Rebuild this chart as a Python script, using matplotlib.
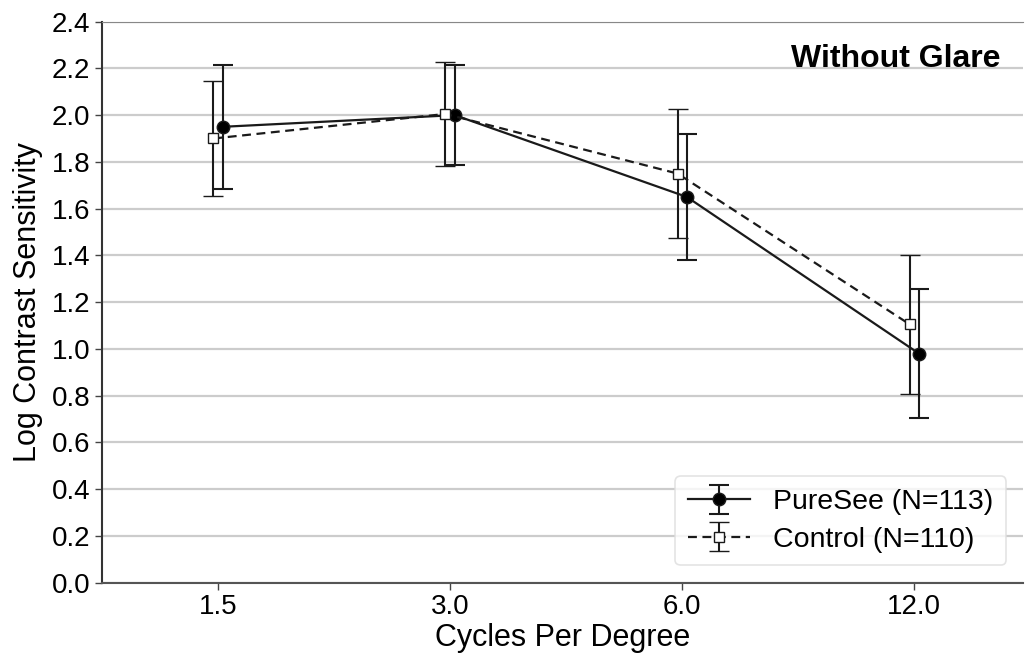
import numpy as np
import matplotlib.pyplot as plt

plt.rcParams['font.family'] = ['Liberation Sans', 'DejaVu Sans']

# Data
cpd_labels = ['1.5', '3.0', '6.0', '12.0']
puresee_mean = [1.95, 2.00, 1.65, 0.98]
puresee_err = [0.265, 0.215, 0.268, 0.275]
control_mean = [1.90, 2.005, 1.75, 1.105]
control_err = [0.247, 0.222, 0.275, 0.297]

x = np.arange(len(cpd_labels))
offset = 0.02

fig = plt.figure(figsize=(10.26, 6.56), dpi=100)
ax = fig.add_axes([0.0994, 0.112, 0.898, 0.855])

# Gridlines
ax.set_axisbelow(True)
ax.yaxis.grid(True, color='#cccccc', linewidth=1.6)

ax.errorbar(x + offset, puresee_mean, yerr=puresee_err, color='#1a1a1a',
            linestyle='-', linewidth=1.6, marker='o', markersize=9,
            markerfacecolor='#000000', capsize=7, elinewidth=1.5,
            capthick=1.5, label='PureSee (N=113)', zorder=3)
ax.errorbar(x - offset, control_mean, yerr=control_err, color='#1a1a1a',
            linestyle='--', dashes=(4, 2.5), linewidth=1.6, marker='s',
            markersize=7, markerfacecolor='white', markeredgewidth=1.0,
            capsize=7, elinewidth=1.5, capthick=1.5,
            label='Control (N=110)', zorder=3)

ax.set_xlim(-0.5, 3.47)
ax.set_ylim(0, 2.4)
ax.set_yticks(np.arange(0, 2.41, 0.2))
ax.set_yticklabels([f'{v:.1f}' for v in np.arange(0, 2.41, 0.2)])
ax.set_xticks(x)
ax.set_xticklabels(cpd_labels)

ax.tick_params(axis='both', labelsize=20, color='#444444', length=5, width=1)
ax.set_xlabel('Cycles Per Degree', fontsize=22, labelpad=2)
ax.set_ylabel('Log Contrast Sensitivity', fontsize=22, labelpad=6)

ax.spines['right'].set_visible(False)
ax.spines['top'].set_color('#888888')
ax.spines['left'].set_color('#333333')
ax.spines['bottom'].set_color('#555555')
ax.spines['left'].set_linewidth(1.5)
ax.spines['bottom'].set_linewidth(1.5)

ax.text(0.975, 0.96, 'Without Glare', transform=ax.transAxes, ha='right',
        va='top', fontsize=23, fontweight='bold')

leg = ax.legend(loc='lower right', fontsize=20.5, frameon=True,
                handlelength=2.2, borderpad=0.45, labelspacing=0.4,
                bbox_to_anchor=(0.997, 0.005))
leg.get_frame().set_edgecolor('#dddddd')
leg.get_frame().set_linewidth(1.2)

fig.savefig('out.png', dpi=100)
